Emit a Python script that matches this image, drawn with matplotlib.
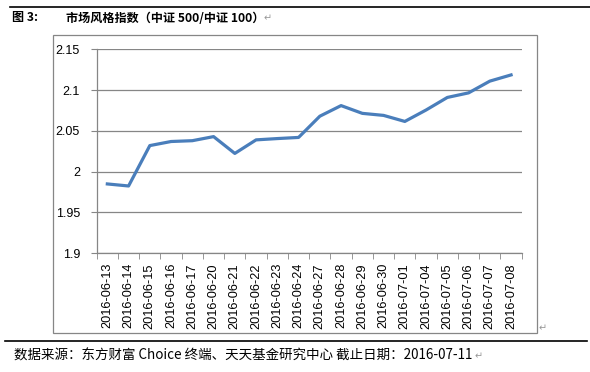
import matplotlib.pyplot as plt
from matplotlib.patches import Rectangle
from matplotlib.lines import Line2D

plt.rcParams['font.family'] = ['Noto Sans CJK SC', 'DejaVu Sans']

dates = ["2016-06-13", "2016-06-14", "2016-06-15", "2016-06-16", "2016-06-17",
         "2016-06-20", "2016-06-21", "2016-06-22", "2016-06-23", "2016-06-24",
         "2016-06-27", "2016-06-28", "2016-06-29", "2016-06-30", "2016-07-01",
         "2016-07-04", "2016-07-05", "2016-07-06", "2016-07-07", "2016-07-08"]
values = [1.985, 1.9825, 2.032, 2.037, 2.038,
          2.043, 2.0224, 2.039, 2.0406, 2.042,
          2.068, 2.081, 2.0715, 2.069, 2.0616,
          2.0756, 2.091, 2.0966, 2.111, 2.1186]
yticks = [1.9, 1.95, 2.0, 2.05, 2.1, 2.15]

fig = plt.figure(figsize=(5.9, 3.72), dpi=100)

# document rules and chart frame
fig.add_artist(Line2D([10 / 590, 1.0], [1 - 7 / 372, 1 - 7 / 372], color="black", lw=1.2))
fig.add_artist(Line2D([5 / 590, 587 / 590], [1 - 341 / 372, 1 - 341 / 372], color="black", lw=1.2))
fig.add_artist(Rectangle((53 / 590, 1 - 333 / 372), 484 / 590, 298 / 372,
                         fill=False, edgecolor="#868686", lw=0.9))

fig.text(12 / 590, 1 - 18 / 372, "图 3:", fontsize=8.7, fontweight="bold", va="center")
fig.text(66 / 590, 1 - 18 / 372, "市场风格指数（中证 500/中证 100）", fontsize=8.7,
         fontweight="bold", va="center")
fig.text(264 / 590, 1 - 18 / 372, "↵", fontsize=7, color="#999999", va="center",
         family="DejaVu Sans")
fig.text(539 / 590, 1 - 328 / 372, "↵", fontsize=7, color="#999999", va="center",
         family="DejaVu Sans")
fig.text(14 / 590, 1 - 356 / 372,
         "数据来源：东方财富 Choice 终端、天天基金研究中心 截止日期：2016-07-11",
         fontsize=9.7, va="center")
fig.text(475 / 590, 1 - 356 / 372, "↵", fontsize=7, color="#999999", va="center",
         family="DejaVu Sans")

ax = fig.add_axes([96.7 / 590, 1 - 253.3 / 372, 425 / 590, 204 / 372])
x = list(range(len(dates)))
ax.plot(x, values, color="#4A7EBB", lw=2.3, solid_joinstyle="round")

ax.set_xlim(-0.5, len(dates) - 0.5)
ax.set_ylim(1.9, 2.15)
ax.set_yticks(yticks)
ax.set_yticklabels([f"{v:g}" for v in yticks], family="Liberation Sans", fontsize=9)
ax.set_xticks(x)
ax.set_xticklabels(dates, rotation=90, family="Liberation Sans", fontsize=9.2)
ax.set_xticks([i - 0.5 for i in range(len(dates) + 1)], minor=True)
ax.tick_params(axis="x", which="major", length=0, pad=7)
ax.tick_params(axis="x", which="minor", length=4, color="#868686")
ax.tick_params(axis="y", length=4, color="#868686", pad=8)

ax.grid(axis="y", color="#868686", lw=0.9)
ax.set_axisbelow(True)
for s in ["top", "right"]:
    ax.spines[s].set_visible(False)
for s in ["left", "bottom"]:
    ax.spines[s].set_color("#868686")
    ax.spines[s].set_linewidth(0.9)

fig.savefig("out.png", dpi=100)
